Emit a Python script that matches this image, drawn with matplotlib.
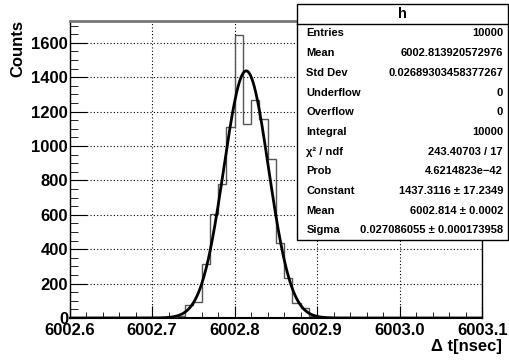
import numpy as np
import matplotlib
matplotlib.use("Agg")
import matplotlib.pyplot as plt
from matplotlib.patches import Rectangle
from matplotlib.lines import Line2D

plt.rcParams['font.family'] = ['Liberation Sans', 'DejaVu Sans']
plt.rcParams['font.weight'] = 'bold'

# histogram: 50 bins of 0.01 ns between 6002.6 and 6003.1
x_min, x_max, n_bins = 6002.6, 6003.1, 50
first_filled = 6002.70
counts_filled = [0, 1, 3, 12, 78, 95, 313, 604, 778, 1108, 1645,
                 1131, 1268, 1160, 926, 439, 233, 90, 60, 9, 2]

# gaussian fit parameters
fit_const = 1437.3116
fit_mean = 6002.814
fit_sigma = 0.027086055

x_ticks = [6002.6, 6002.7, 6002.8, 6002.9, 6003.0, 6003.1]
y_ticks = [0, 200, 400, 600, 800, 1000, 1200, 1400, 1600]

stat_names = ["Entries", "Mean", "Std Dev", "Underflow", "Overflow", "Integral",
              "\u03c7\u00b2 / ndf", "Prob", "Constant", "Mean", "Sigma"]
stat_values = ["10000", "6002.813920572976", "0.02689303458377267", "0", "0", "10000",
               "243.40703 / 17", "4.6214823e\u221242", "1437.3116 \u00b1 17.2349",
               "6002.814 \u00b1 0.0002", "0.027086055 \u00b1 0.000173958"]

W, H = 509, 360
fig = plt.figure(figsize=(W / 100, H / 100), dpi=100)
ax = fig.add_axes([69.5 / W, 1 - 318 / H, (482.3 - 69.5) / W, (318 - 21) / H])

edges = np.linspace(x_min, x_max, n_bins + 1)
counts = np.zeros(n_bins)
i0 = int(round((first_filled - x_min) / 0.01))
counts[i0:i0 + len(counts_filled)] = counts_filled

ax.stairs(counts, edges, color='#555555', lw=1.0, zorder=3)

xx = np.linspace(x_min, x_max, 1000)
ax.plot(xx, fit_const * np.exp(-0.5 * ((xx - fit_mean) / fit_sigma) ** 2),
        color='black', lw=2.0, zorder=4)

ax.set_xlim(x_min, x_max)
ax.set_ylim(0, 1.05 * max(counts))

ax.set_xticks(x_ticks)
ax.set_xticklabels(["%.1f" % v for v in x_ticks])
ax.set_xticks(np.arange(x_min, x_max + 1e-9, 0.02), minor=True)
ax.set_yticks(y_ticks)
ax.set_yticks(np.arange(0, 1726, 50), minor=True)

ax.tick_params(axis='both', which='both', direction='in', top=False, right=False,
               labelsize=12, color='black')
ax.tick_params(axis='x', which='major', length=9, pad=3.5)
ax.tick_params(axis='x', which='minor', length=4.5)
ax.tick_params(axis='y', which='major', length=12, pad=1)
ax.tick_params(axis='y', which='minor', length=6)
for lab in ax.get_xticklabels() + ax.get_yticklabels():
    lab.set_fontweight('bold')

ax.grid(True, which='major', color='black', ls=(0, (1, 2)), lw=0.8)
ax.set_axisbelow(True)

ax.spines['top'].set_color('#777777')
ax.spines['top'].set_linewidth(2)
ax.spines['bottom'].set_linewidth(1.5)
for s in ['left', 'right']:
    ax.spines[s].set_linewidth(1)

fig.text(18 / W, 1 - 20 / H, "Counts", rotation=90, ha='center', va='top',
         fontsize=12, fontweight='bold')
fig.text(502 / W, 1 - 346 / H, "\u0394 t[nsec]", ha='right', va='center',
         fontsize=12, fontweight='bold')

# stats box
bx0, bx1, by0, by1 = 297, 508, 4, 240
fig.patches.append(Rectangle((bx0 / W, 1 - by1 / H), (bx1 - bx0) / W, (by1 - by0) / H,
                             transform=fig.transFigure, facecolor='white',
                             edgecolor='black', lw=1, zorder=10))
row_h = (by1 - by0) / 12
fig.lines.append(Line2D([bx0 / W, bx1 / W], [1 - (by0 + row_h) / H] * 2,
                        transform=fig.transFigure, color='black', lw=1, zorder=11))
fig.text((bx0 + bx1) / 2 / W, 1 - (by0 + row_h / 2) / H, "h", ha='center', va='center',
         fontsize=10.5, fontweight='bold', zorder=12)
for k, (name, val) in enumerate(zip(stat_names, stat_values)):
    yc = 1 - (by0 + row_h * (k + 1.5)) / H
    fig.text(306.5 / W, yc, name, ha='left', va='center', fontsize=8,
             fontweight='bold', zorder=12)
    fig.text(503 / W, yc, val, ha='right', va='center', fontsize=8,
             fontweight='bold', zorder=12)

fig.savefig("out.png", dpi=100)
